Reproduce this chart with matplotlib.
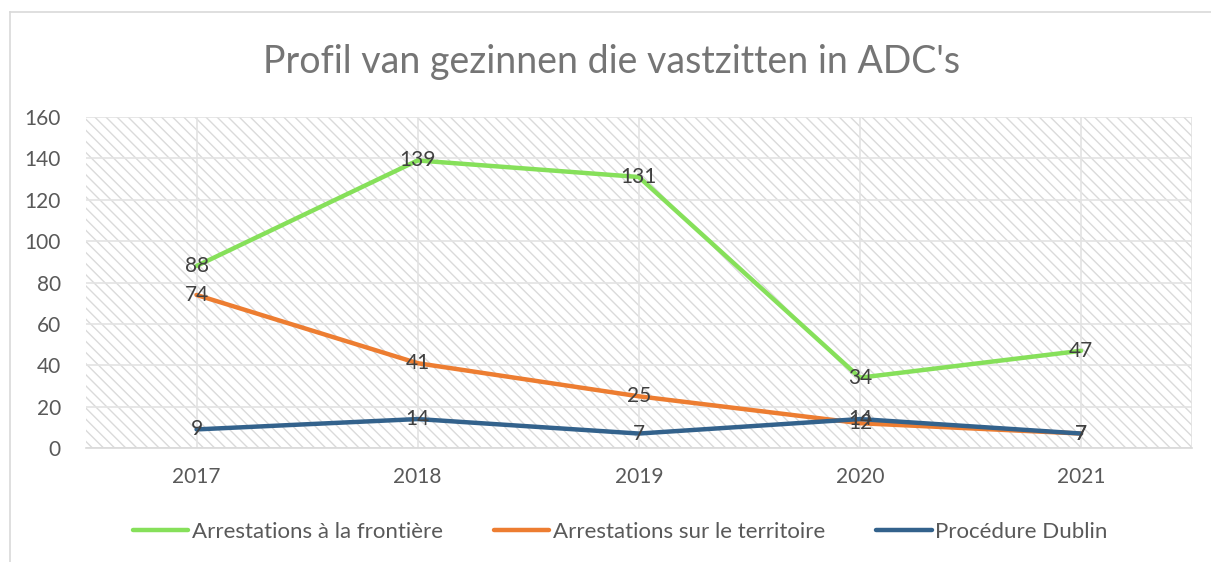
import numpy as np
import matplotlib.pyplot as plt
from matplotlib.lines import Line2D

years = ["2017", "2018", "2019", "2020", "2021"]
frontiere = [88, 139, 131, 34, 47]
territoire = [74, 41, 25, 12, 7]
dublin = [9, 14, 7, 14, 7]

series = [
    ("Arrestations à la frontière", frontiere, "#86E05A"),
    ("Arrestations sur le territoire", territoire, "#ED7D31"),
    ("Procédure Dublin", dublin, "#33628C"),
]

plt.rcParams["font.family"] = ["Lato", "DejaVu Sans"]
plt.rcParams["hatch.linewidth"] = 1.0
txt = "#595959"

fig = plt.figure(figsize=(12.11, 5.62), dpi=100)
ax = fig.add_axes([0.071, 0.2028, 0.913, 0.589])

# outer chart border (only top and left visible)
fig.add_artist(Line2D([10 / 1211, 10 / 1211], [0, 1 - 12 / 562], transform=fig.transFigure, color="#D9D9D9", lw=1.2))
fig.add_artist(Line2D([10 / 1211, 1], [1 - 12 / 562, 1 - 12 / 562], transform=fig.transFigure, color="#D9D9D9", lw=1.2))

x = np.arange(len(years))
ax.set_xlim(-0.5, len(years) - 0.5)
ax.set_ylim(0, 160)

# hatched plot background
ax.fill_between([-0.5, len(years) - 0.5], 0, 160, facecolor="white", edgecolor="#DADADA",
                hatch="\\\\\\", lw=0, zorder=0)

for yv in range(0, 161, 20):
    ax.axhline(yv, color="#E3E3E3", lw=1.2, zorder=1)
for xv in x:
    ax.axvline(xv, color="#E3E3E3", lw=1.2, zorder=1)
ax.axvline(len(years) - 0.5, color="#E3E3E3", lw=1.2, zorder=1)

for name, vals, col in series:
    ax.plot(x, vals, color=col, lw=3.2, label=name, zorder=3, solid_capstyle="round")
for name, vals, col in series:
    for xi, v in zip(x, vals):
        ax.text(xi, v, str(v), ha="center", va="center", fontsize=15, color="#404040", zorder=4)

for s in ax.spines.values():
    s.set_visible(False)
ax.spines["bottom"].set_visible(True)
ax.spines["bottom"].set_color("#D9D9D9")
ax.spines["bottom"].set_linewidth(1.2)

ax.set_xticks(x)
ax.set_xticklabels(years)
ax.set_yticks(range(0, 161, 20))
ax.tick_params(length=0, labelsize=15, labelcolor=txt)
ax.tick_params(axis="x", pad=14)
ax.tick_params(axis="y", pad=18)

fig.text(0.505, 0.89, "Profil van gezinnen die vastzitten in ADC's", ha="center", va="center",
         fontsize=27, color="#757575")

fig.legend(loc="center", bbox_to_anchor=(0.512, 0.053), ncol=3, frameon=False, fontsize=16,
           labelcolor=txt, handlelength=2.5, handletextpad=0.15, columnspacing=2.3)

fig.savefig("out.png", dpi=100)
